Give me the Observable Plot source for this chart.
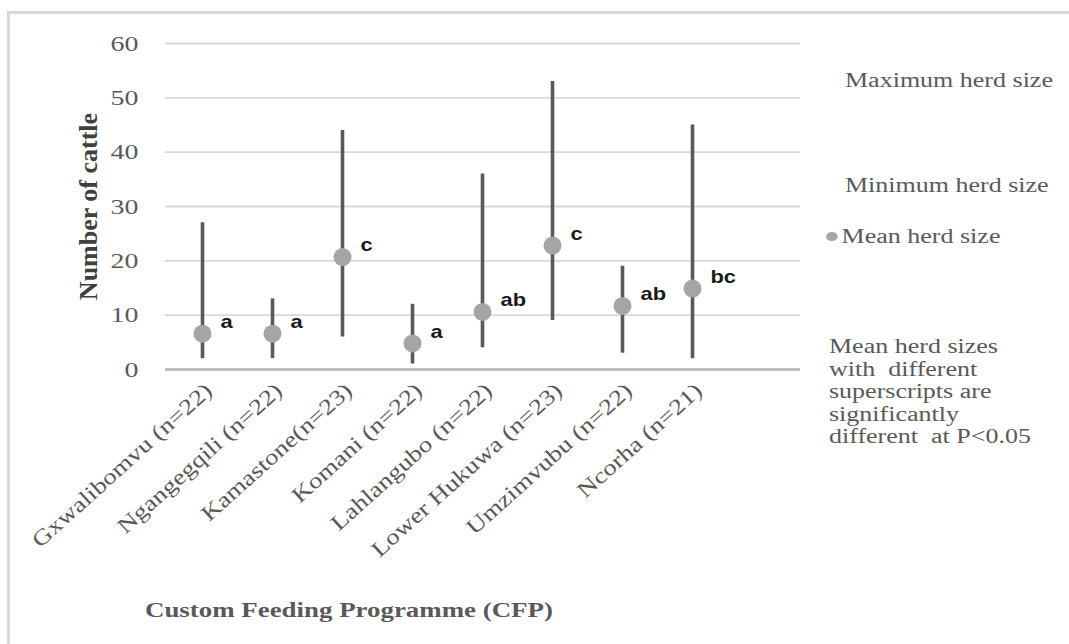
<!DOCTYPE html>
<html>
<head>
<meta charset="utf-8">
<script src="https://cdn.jsdelivr.net/npm/d3@7"></script>
<script src="https://cdn.jsdelivr.net/npm/@observablehq/plot@0.6"></script>
<style>
  html, body { margin: 0; padding: 0; background: #fff; }
  #wrap { position: relative; width: 1069px; height: 644px; overflow: hidden; background: #fff; }
  #border { position: absolute; left: 7px; top: 11px; width: 1200px; height: 800px; border: 3px solid #D9D9D9; box-sizing: border-box; }
  .t { position: absolute; font-family: "Liberation Serif", "Times New Roman", serif; color: #595959; white-space: nowrap; transform-origin: 0 0; transform: scaleX(1.3); line-height: 1; font-size: 20px; }
  #chart { position: absolute; left: 0; top: 0; }
</style>
</head>
<body>
<div id="wrap">
  <div id="border"></div>
  <div id="chart"></div>
  <div class="t" style="left:845px; top:70px;">Maximum herd size</div>
  <div class="t" style="left:845px; top:175px;">Minimum herd size</div>
  <div class="t" style="left:826px; top:226px;"><span style="display:inline-block;width:9px;height:9px;border-radius:50%;background:#A5A5A5;margin-right:3px;vertical-align:2px;"></span>Mean herd size</div>
  <div class="t" style="left:829px; top:335px; line-height:22.5px;">Mean herd sizes<br>with&nbsp; different<br>superscripts are<br>significantly<br>different&nbsp; at P&lt;0.05</div>
  <div class="t" style="left:145px; top:600px; font-weight:bold; font-size:21px; transform:scaleX(1.28);">Custom Feeding Programme (CFP)</div>
</div>
<script>
const categories = ["Gxwalibomvu (n=22)", "Ngangegqili (n=22)", "Kamastone(n=23)", "Komani (n=22)", "Lahlangubo (n=22)", "Lower Hukuwa (n=23)", "Umzimvubu (n=22)", "Ncorha (n=21)"];
const maxHerd = [27, 13, 44, 12, 36, 53, 19, 45];
const minHerd = [2, 2, 6, 1, 4, 9, 3, 2];
const meanHerd = [6.6, 6.6, 20.7, 4.8, 10.6, 22.8, 11.7, 14.9];
const letters = ["a", "a", "c", "a", "ab", "c", "ab", "bc"];
const yTicks = [0, 10, 20, 30, 40, 50, 60];
const yTitle = "Number of cattle";

const rows = categories.map((c, i) => ({cat: c, max: maxHerd[i], min: minHerd[i], mean: meanHerd[i], letter: letters[i]}));

const serif = "'Liberation Serif', 'Times New Roman', serif";
const chart = Plot.plot({
  width: 1069,
  height: 644,
  marginTop: 43,
  marginBottom: 275,
  marginLeft: 165,
  marginRight: 269,
  style: {background: "transparent", fontFamily: serif, overflow: "visible"},
  x: {type: "point", domain: categories, padding: 0.5, insetRight: 70.6, axis: null},
  y: {domain: [0, 60], ticks: yTicks, label: null},
  marks: [
    Plot.ruleY(yTicks.filter(d => d > 0), {stroke: "#D9D9D9", strokeWidth: 1.8}),
    Plot.ruleY([0], {stroke: "#BFBFBF", strokeWidth: 3.2}),
    Plot.axisY({ticks: yTicks, tickSize: 0, tickPadding: 27, fontSize: 22, fill: "#595959", label: null, fontFamily: serif}),
    Plot.text([yTitle], {frameAnchor: "left", dx: -77, rotate: -90, textAnchor: "middle", text: d => d, fontSize: 26, fontWeight: "bold", fill: "#404040", fontFamily: serif}),
    Plot.ruleX(rows, {x: "cat", y1: "min", y2: "max", stroke: "#595959", strokeWidth: 3.6}),
    Plot.dot(rows, {x: "cat", y: "mean", r: 9, fill: "#A5A5A5", stroke: "none"}),
    Plot.text(rows, {x: "cat", y: "mean", text: "letter", dx: 18, dy: -12, textAnchor: "start", fontSize: 19, fontWeight: "bold", fill: "#1a1a1a", fontFamily: "'Liberation Sans', Arial, sans-serif"}),
    Plot.text(categories, {x: d => d, text: d => d, frameAnchor: "bottom", dx: 11, dy: 23, rotate: -42, textAnchor: "end", lineAnchor: "bottom", fontSize: 22, fill: "#595959", fontFamily: serif})
  ]
});
document.getElementById("chart").appendChild(chart);

// Horizontal stretch of the reference's text rendering
chart.querySelectorAll("text").forEach(t => {
  const s = t.textContent;
  let f = 1.27;
  if (s === yTitle) f = 1.0;
  else if (categories.includes(s)) f = 1.22;
  else if (letters.includes(s)) f = 1.15;
  if (f !== 1.0 && t.childElementCount === 0) {
    const len = t.getComputedTextLength();
    t.setAttribute("textLength", (len * f).toFixed(1));
    t.setAttribute("lengthAdjust", "spacingAndGlyphs");
  }
});
</script>
</body>
</html>
